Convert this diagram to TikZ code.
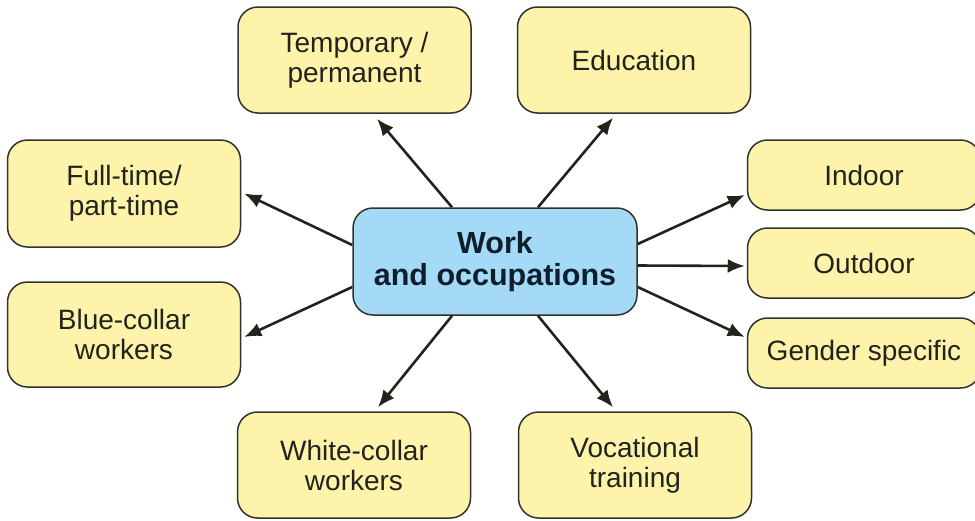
\documentclass[tikz,border=0pt]{standalone}
\usepackage{fontspec}
\setmainfont{Liberation Sans}
\usetikzlibrary{arrows.meta,calc}
\definecolor{boxyellow}{RGB}{253,243,170}
\definecolor{boxblue}{RGB}{164,218,245}
\definecolor{edge}{RGB}{50,50,45}
\definecolor{ink}{RGB}{35,35,30}
\definecolor{inkc}{RGB}{15,30,45}
\begin{document}
\begin{tikzpicture}[x=1pt,y=-1pt,
  leaf/.style={draw=edge,line width=1.5pt,fill=boxyellow,rounded corners=20pt,
    minimum width=233pt,inner sep=0pt,align=center,text=ink,
    font=\fontsize{28}{30}\selectfont},
  hub/.style={draw=edge,line width=1.5pt,fill=boxblue,rounded corners=20pt,
    minimum width=284pt,minimum height=107pt,inner sep=0pt,align=center,text=inkc,
    font=\fontsize{30.5}{32}\selectfont\bfseries},
  arr/.style={draw=ink,line width=2.6pt,-{Latex[length=17pt,width=14pt]}}]
\useasboundingbox (0,0) rectangle (975,520);
\node[hub] (c) at (495,261.5) {Work\\and occupations};
\node[leaf,minimum height=106pt] (temp) at (354.5,60) {Temporary /\\permanent};
\node[leaf,minimum height=106pt] (edu) at (634,60) {Education};
\node[leaf,minimum height=107pt] (full) at (124,193.5) {Full-time/\\part-time};
\node[leaf,minimum height=105pt] (blue) at (124,334.5) {Blue-collar\\workers};
\node[leaf,minimum height=106pt] (white) at (354,465) {White-collar\\workers};
\node[leaf,minimum height=106pt] (voc) at (635,465) {Vocational\\training};
\node[leaf,minimum height=70pt] (in) at (864,175) {Indoor};
\node[leaf,minimum height=70pt] (out) at (864,263) {Outdoor};
\node[leaf,minimum height=70pt] (gen) at (864,353) {Gender specific};
\draw[arr] ($(c.north)+(-43,0)$) -- ($(temp.south)+(22.5,5)$);
\draw[arr] ($(c.north)+(43,0)$) -- ($(edu.south)+(-21,4)$);
\draw[arr] ($(c.west)+(0,-16.5)$) -- ($(full.east)+(3,0)$);
\draw[arr] ($(c.west)+(0,25.5)$) -- ($(blue.east)+(3,2.5)$);
\draw[arr] ($(c.south)+(-43,0)$) -- ($(white.north)+(24,-4)$);
\draw[arr] ($(c.south)+(43,0)$) -- ($(voc.north)+(-22,-4)$);
\draw[arr] ($(c.east)+(0,-17.5)$) -- ($(in.west)+(-2,20)$);
\draw[arr] ($(c.east)+(0,4)$) -- ($(out.west)+(-2,3)$);
\draw[arr] ($(c.east)+(0,25.5)$) -- ($(gen.west)+(-2,-16)$);
\end{tikzpicture}
\end{document}
